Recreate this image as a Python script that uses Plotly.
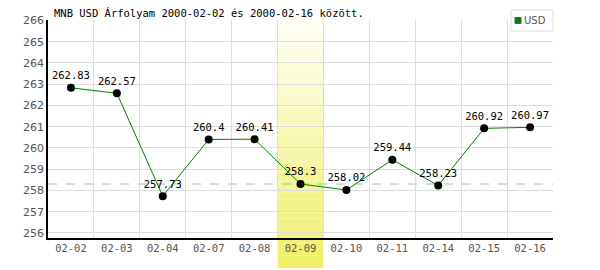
import plotly.graph_objects as go

dates = ["02-02", "02-03", "02-04", "02-07", "02-08", "02-09",
         "02-10", "02-11", "02-14", "02-15", "02-16"]
usd = [262.83, 262.57, 257.73, 260.4, 260.41, 258.3,
       258.02, 259.44, 258.23, 260.92, 260.97]
labels = ["262.83", "262.57", "257.73", "260.4", "260.41", "258.3",
          "258.02", "259.44", "258.23", "260.92", "260.97"]
highlight = "02-09"
ref_value = 258.3
series_name = "USD"
title = "MNB USD Árfolyam 2000-02-02 és 2000-02-16 között."

fig = go.Figure()

fig.add_trace(go.Scatter(
    x=dates, y=usd, mode="lines+markers+text", name=series_name,
    text=labels, textposition="top center",
    textfont=dict(family="DejaVu Sans Mono", size=10.5, color="black"),
    line=dict(color="#008000", width=1),
    marker=dict(color="black", size=8),
    showlegend=False, cliponaxis=False,
))

# gradient highlight band
idx = dates.index(highlight)
n = 40
y_top, y_bot = 1.0, -0.138
c_top = (255, 255, 248)
c_bot = (240, 239, 100)
shapes = []
for i in range(n):
    t0 = i / n
    t1 = (i + 1) / n
    t = (t0 + t1) / 2
    col = tuple(round(c_top[k] + (c_bot[k] - c_top[k]) * t) for k in range(3))
    shapes.append(dict(
        type="rect", xref="x", yref="paper",
        x0=idx - 0.5, x1=idx + 0.5,
        y0=y_top + (y_bot - y_top) * t1, y1=y_top + (y_bot - y_top) * t0,
        fillcolor="rgb(%d,%d,%d)" % col, line=dict(width=0), layer="between",
    ))
shapes.append(dict(
    type="line", xref="paper", yref="y", x0=0, x1=1, y0=ref_value, y1=ref_value,
    line=dict(color="#9fc49f", width=1, dash="dash"), layer="between",
))

# compact legend box (top right)
plot_w, plot_h = 505, 218
def px_x(px):
    return (px - 48) / plot_w
def px_y(py):
    return (238 - py) / plot_h
shapes.append(dict(type="rect", xref="paper", yref="paper",
                   x0=px_x(511), x1=px_x(553), y0=px_y(31), y1=px_y(10),
                   fillcolor="white", line=dict(color="#dddddd", width=1),
                   layer="above"))
shapes.append(dict(type="rect", xref="paper", yref="paper",
                   x0=px_x(515), x1=px_x(521), y0=px_y(23.5), y1=px_y(17.5),
                   fillcolor="#008000", line=dict(color="#555555", width=1),
                   layer="above"))
fig.update_layout(shapes=shapes)

fig.add_annotation(
    text=series_name, xref="paper", yref="paper", x=px_x(522), y=px_y(20.5),
    xanchor="left", yanchor="middle", showarrow=False,
    font=dict(family="DejaVu Sans", size=10, color="#555"),
)
fig.add_annotation(
    text=title, xref="paper", yref="paper", x=0, y=1, xanchor="left",
    yanchor="bottom", xshift=4, yshift=-1, showarrow=False,
    font=dict(family="DejaVu Sans Mono", size=10.5, color="black"),
)

fig.update_layout(
    width=600, height=270,
    margin=dict(l=48, r=47, t=20, b=32),
    paper_bgcolor="white", plot_bgcolor="white",
    showlegend=False,
    xaxis=dict(type="category", range=[-0.5, 10.5], tickson="boundaries",
               showgrid=True, gridcolor="#dddddd", gridwidth=1,
               showline=True, linecolor="black", linewidth=1.5,
               ticks="", fixedrange=True,
               tickfont=dict(family="DejaVu Sans Mono", size=10.5, color="#555")),
    yaxis=dict(range=[255.76, 266.02], dtick=1, tick0=256,
               showgrid=True, gridcolor="#dddddd", gridwidth=1,
               showline=True, linecolor="black", linewidth=1.5,
               ticks="", zeroline=False,
               tickfont=dict(family="DejaVu Sans", size=11, color="#555")),
)

fig.write_html("out.html")
